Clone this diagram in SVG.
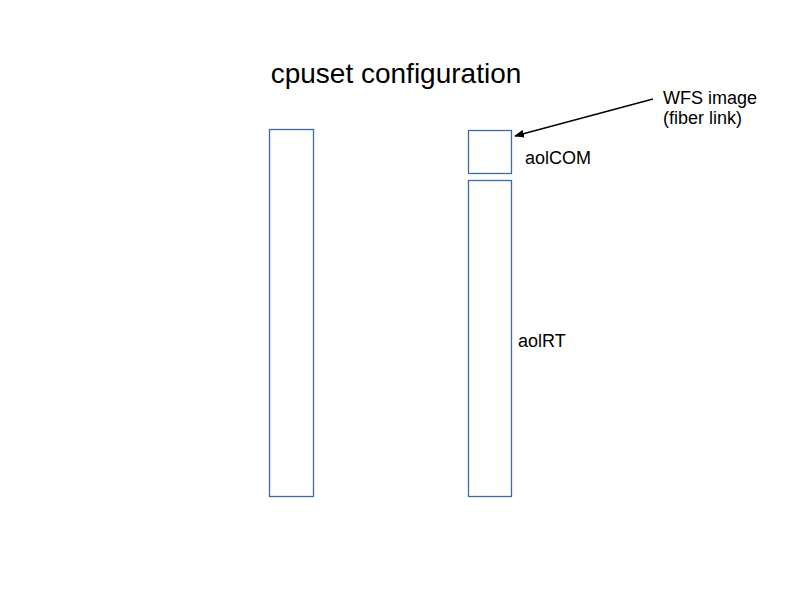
<svg xmlns="http://www.w3.org/2000/svg" width="794" height="595" viewBox="0 0 794 595">
<style>
.box{fill:none;stroke:#3d6aa3;stroke-width:1.3}
.t{font-family:"Liberation Sans",Arial,sans-serif;fill:#000}
.lbl{font-size:18px}
</style>
<defs>
<marker id="ah" markerWidth="10" markerHeight="8" refX="9" refY="4" orient="auto" markerUnits="userSpaceOnUse">
<path d="M0,0 L10,4 L0,8 Z" fill="#000"/>
</marker>
</defs>
<rect width="794" height="595" fill="#fff"/>
<text class="t" x="396" y="83" font-size="28" text-anchor="middle">cpuset configuration</text>
<g id="left"><rect class="box" x="269.5" y="129.5" width="44" height="367"/></g>
<g id="aolCOM"><rect class="box" x="468.5" y="130.5" width="43" height="43"/><text class="t lbl" x="525" y="164">aolCOM</text></g>
<g id="aolRT"><rect class="box" x="468.5" y="180.5" width="43" height="316"/><text class="t lbl" x="518" y="347">aolRT</text></g>
<g id="wfs"><text class="t lbl" x="663" y="104">WFS image</text><text class="t lbl" x="663" y="124">(fiber link)</text></g>
<g id="connectors"><line x1="653" y1="99" x2="515" y2="136" stroke="#000" stroke-width="1.3" marker-end="url(#ah)"/></g>
</svg>
